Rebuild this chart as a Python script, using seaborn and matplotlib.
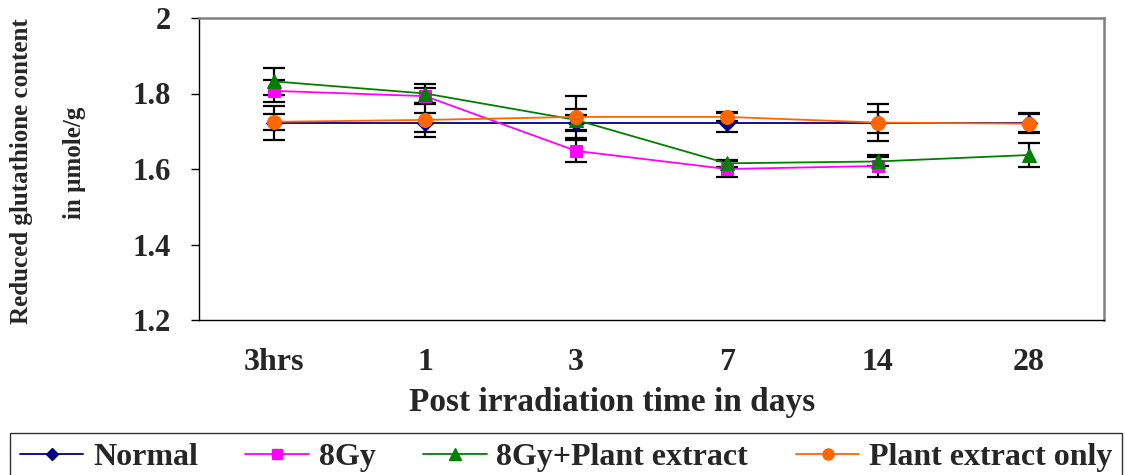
import numpy as np
import pandas as pd
import matplotlib
matplotlib.use("Agg")
import matplotlib.pyplot as plt
import seaborn as sns
from matplotlib.lines import Line2D

categories = ["3hrs", "1", "3", "7", "14", "28"]
series_names = ["Normal", "8Gy", "8Gy+Plant extract", "Plant extract only"]
normal = [1.723, 1.723, 1.723, 1.723, 1.723, 1.723]
normal_err = [0.045, 0.025, 0.02, 0.025, 0.027, 0.025]
gy8 = [1.807, 1.793, 1.648, 1.600, 1.608, np.nan]
gy8_err = [0.03, 0.022, 0.03, 0.02, 0.028, np.nan]
gy8_plant = [1.832, 1.800, 1.730, 1.615, 1.620, 1.637]
gy8_plant_err = [0.035, 0.025, 0.03, 0.01, 0.012, 0.033]
plant_only = [1.725, 1.730, 1.738, 1.738, 1.723, 1.720]
plant_only_err = [0.022, 0.045, 0.055, 0.012, 0.05, 0.025]
yticks = [1.2, 1.4, 1.6, 1.8, 2.0]
ytick_labels = ["1.2", "1.4", "1.6", "1.8", "2"]

colors = ["#000080", "#FF00FF", "#008000", "#FF6600"]
markers = ["D", "s", "^", "o"]
msizes = [8, 9, 10, 10]

values = [normal, gy8, gy8_plant, plant_only]
errors = [normal_err, gy8_err, gy8_plant_err, plant_only_err]

rows = []
for name, vals, errs in zip(series_names, values, errors):
    for i, (v, e) in enumerate(zip(vals, errs)):
        rows.append({"series": name, "pos": i, "value": v, "err": e})
df = pd.DataFrame(rows)

sns.set_theme(style="white")
plt.rcParams["font.family"] = ["Liberation Serif", "DejaVu Serif"]
plt.rcParams["font.weight"] = "bold"

fig = plt.figure(figsize=(11.25, 4.75), dpi=100)
ax = fig.add_axes([199 / 1125, 1 - 320 / 475, (1104 - 199) / 1125, (320 - 18) / 475])

# error bars
for name in series_names:
    d = df[df.series == name].dropna()
    ax.errorbar(d["pos"], d["value"], yerr=d["err"], fmt="none", ecolor="black",
                elinewidth=1.6, capsize=8, capthick=1.6, zorder=2)

for name, c, m, ms in zip(series_names, colors, markers, msizes):
    d = df[df.series == name].dropna()
    sns.lineplot(data=d, x="pos", y="value", ax=ax, color=c, marker=m,
                 markersize=ms, markeredgecolor=c, linewidth=1.3, zorder=3,
                 legend=False, errorbar=None, sort=False)

ax.set_xlim(-0.5, len(categories) - 0.5)
ax.set_ylim(1.2, 2.0)
ax.set_xticks(range(len(categories)))
ax.set_xticklabels(categories, fontsize=23, fontweight="bold")
ax.set_xticks(np.arange(-0.5, len(categories)), minor=True)
ax.tick_params(axis="x", which="major", length=0, pad=20)
ax.tick_params(axis="x", which="minor", length=6, width=1, color="black", direction="out")
ax.set_yticks(yticks)
ax.set_yticklabels(ytick_labels, fontsize=22, fontweight="bold")
ax.tick_params(axis="y", which="major", length=6, width=1, color="black", direction="out", pad=14, left=True)
ax.set_xlabel("")
ax.set_ylabel("")
ax.grid(False)

for s in ["left", "bottom"]:
    ax.spines[s].set_color("black")
    ax.spines[s].set_linewidth(1.0)
for s in ["top", "right"]:
    ax.spines[s].set_color("#808080")
    ax.spines[s].set_linewidth(1.8)

fig.text(612 / 1125, 1 - 403 / 475, "Post irradiation time in days", ha="center", va="center",
         fontsize=24, fontweight="bold")
fig.text(22 / 1125, 1 - 171 / 475, "Reduced glutathione content", ha="center", va="center",
         rotation=90, fontsize=18, fontweight="bold")
fig.text(74 / 1125, 1 - 163 / 475, "in µmole/g", ha="center", va="center",
         rotation=90, fontsize=18, fontweight="bold")

handles = [Line2D([0], [0], color=c, marker=m, markersize=ms * 0.8, linewidth=1.3,
                  markeredgecolor=c) for c, m, ms in zip(colors, markers, msizes)]
leg = fig.legend(handles, series_names, loc="upper left", ncol=4, mode="expand",
                 bbox_to_anchor=(10 / 1125, -0.2, 1112 / 1125, 0.2 + 1 - 433 / 475),
                 frameon=True, fancybox=False, handlelength=2.0,
                 handletextpad=0.3, columnspacing=0.75, borderpad=0.3, borderaxespad=0,
                 prop={"weight": "bold", "size": 23})
leg.get_frame().set_edgecolor("black")
leg.get_frame().set_linewidth(1.0)

fig.savefig("out.png", dpi=100)
